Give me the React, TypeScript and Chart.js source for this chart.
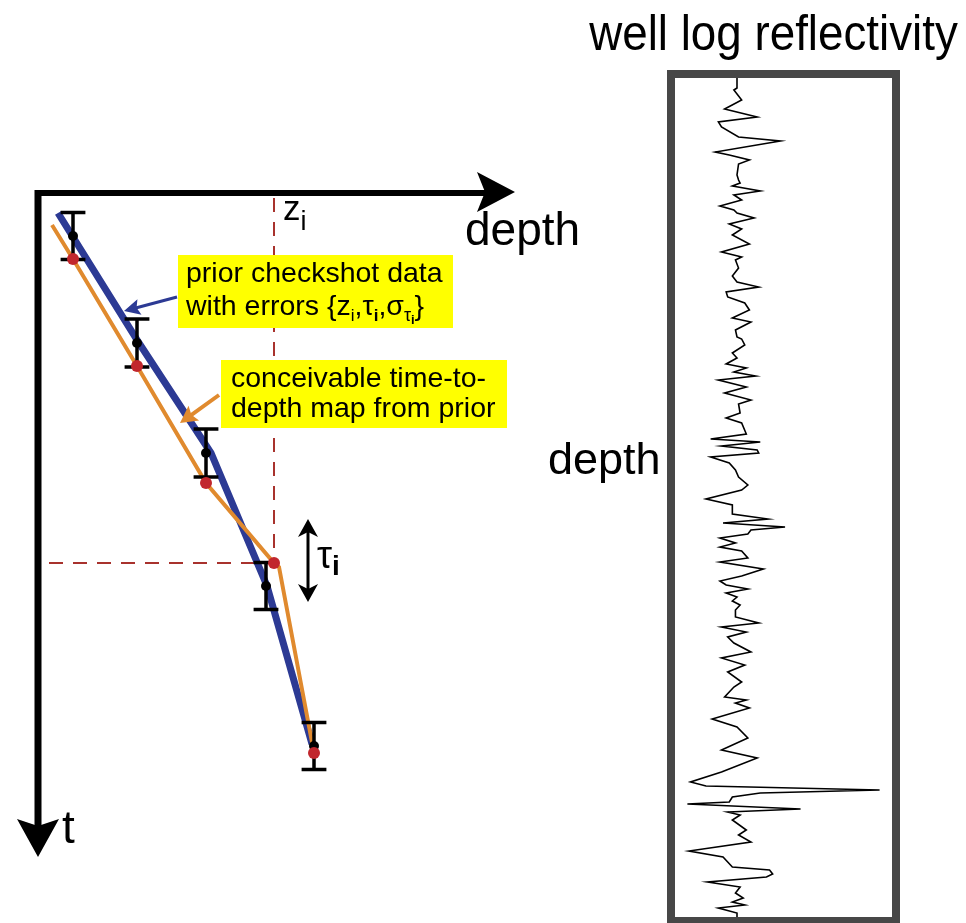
import React, { useEffect, useRef } from "react";
import { Chart, registerables } from "chart.js";

Chart.register(...registerables);

const FONT = '"Liberation Sans", Arial, Helvetica, sans-serif';

// Checkshot picks: depth z_i (m), one-way time tau_i (ms) and pick error sigma (ms)
const checkDepth = [175, 495, 840, 1140, 1380];
const checkTime = [88, 302, 522, 788, 1108];
const checkSigma = [47, 48, 48, 47, 47];

// Prior trend through the checkshots
const trendDepth = [100, 505, 865, 1145, 1370];
const trendTime = [42, 302, 522, 788, 1104];

// One conceivable time-to-depth map drawn from the prior
const mapDepth = [70, 175, 495, 840, 1180, 1205, 1380];
const mapTime = [66, 134, 348, 582, 742, 750, 1122];
const nodeDepth = [175, 495, 840, 1180, 1380];
const nodeTime = [134, 348, 582, 742, 1122];
const pickedNode = 3;

// Well log reflectivity series versus depth (m)
const wellDepth = [
  0, 10, 12, 22, 31, 39, 44, 49, 59, 63, 74, 77, 82, 86, 97, 102, 105, 108, 113, 117,
  122, 128, 132, 135, 140, 146, 151, 157, 166, 174, 179, 182, 190, 198, 204, 209, 214, 219, 225, 232,
  240, 244, 252, 259, 261, 267, 275, 280, 286, 290, 294, 298, 302, 309, 315, 322, 326, 335, 340, 345,
  356, 361, 364, 368, 372, 375, 379, 385, 392, 399, 407, 412, 421, 427, 436, 441, 445, 449, 452, 456,
  460, 465, 469, 473, 480, 484, 491, 498, 503, 507, 511, 515, 519, 523, 527, 532, 539, 545, 549, 554,
  559, 565, 574, 580, 587, 594, 604, 609, 619, 622, 625, 630, 641, 649, 660, 672, 680, 694, 704, 708,
  712, 715, 719, 724, 726, 731, 734, 737, 742, 752, 757, 764, 773, 779, 784, 789, 792, 796, 799, 804,
  809, 815, 820, 824, 827, 830, 835, 839,
];
const wellRefl = [
  0.0, 0.0, -0.02, 0.03, -0.08, 0.13, -0.12, -0.1, 0.01, 0.28, -0.14, -0.05, 0.08, 0.01, 0.0, 0.01, 0.02, -0.03, 0.15, -0.02,
  0.03, -0.11, -0.02, 0.0, 0.11, -0.05, 0.03, -0.03, 0.08, -0.1, 0.03, -0.01, 0.01, -0.03, 0.0, 0.14, -0.07, -0.06, 0.05, 0.08,
  -0.03, 0.09, -0.01, 0.0, 0.03, 0.05, -0.03, 0.0, -0.07, 0.06, -0.02, 0.12, -0.12, 0.06, -0.08, 0.09, 0.01, 0.02, -0.07, 0.03,
  0.06, -0.17, 0.15, -0.1, 0.13, 0.14, -0.17, -0.05, -0.01, 0.01, 0.07, 0.03, -0.2, -0.03, -0.03, 0.2, -0.09, 0.31, 0.09, 0.07,
  -0.11, -0.01, -0.11, 0.03, 0.07, -0.11, 0.17, 0.03, -0.11, -0.07, 0.07, -0.07, 0.0, -0.03, 0.02, -0.01, -0.01, 0.14, -0.1, 0.06,
  -0.06, -0.02, 0.09, -0.1, 0.05, -0.06, 0.03, -0.02, -0.08, 0.06, -0.01, 0.08, -0.16, 0.0, 0.07, -0.1, 0.13, -0.1, -0.3, -0.2,
  0.92, 0.15, -0.03, -0.05, -0.32, 0.41, -0.06, 0.02, -0.03, 0.06, 0.01, 0.09, -0.31, -0.09, -0.06, -0.03, 0.21, 0.23, 0.19, -0.19,
  0.02, -0.01, 0.04, -0.03, 0.05, -0.12, 0.0, 0.0,
];

const BLUE = "#2c3a94";
const ORANGE = "#e08a2e";
const RED = "#c1272d";
const DASH_RED = "#a8322d";
const YELLOW = "#ffff00";

type Run = { text: string; size: number; dy?: number; bold?: boolean };

function drawRuns(ctx: CanvasRenderingContext2D, x: number, y: number, runs: Run[]) {
  let cx = x;
  for (const r of runs) {
    ctx.font = `${r.bold ? "bold " : ""}${r.size}px ${FONT}`;
    ctx.fillText(r.text, cx, y + (r.dy || 0));
    cx += ctx.measureText(r.text).width;
  }
}

function arrowHead(
  ctx: CanvasRenderingContext2D,
  tipX: number,
  tipY: number,
  angle: number,
  len: number,
  halfW: number,
  notch: number
) {
  ctx.save();
  ctx.translate(tipX, tipY);
  ctx.rotate(angle);
  ctx.beginPath();
  ctx.moveTo(0, 0);
  ctx.lineTo(-len, -halfW);
  ctx.lineTo(-len + notch, 0);
  ctx.lineTo(-len, halfW);
  ctx.closePath();
  ctx.fill();
  ctx.restore();
}

function line(ctx: CanvasRenderingContext2D, x1: number, y1: number, x2: number, y2: number) {
  ctx.beginPath();
  ctx.moveTo(x1, y1);
  ctx.lineTo(x2, y2);
  ctx.stroke();
}

const GAP = { x: NaN, y: NaN };
const CAP = 62;

function errorBarPoints() {
  const pts: { x: number; y: number }[] = [];
  checkDepth.forEach((z, k) => {
    const lo = checkTime[k] - checkSigma[k];
    const hi = checkTime[k] + checkSigma[k];
    pts.push({ x: z, y: lo }, { x: z, y: hi }, GAP);
    pts.push({ x: z - CAP, y: lo }, { x: z + CAP, y: lo }, GAP);
    pts.push({ x: z - CAP, y: hi }, { x: z + CAP, y: hi }, GAP);
  });
  return pts;
}

const zip = (xs: number[], ys: number[]) => xs.map((x, i) => ({ x, y: ys[i] }));

const diagramPlugin = {
  id: "checkshotDiagram",
  beforeDatasetsDraw(chart: any) {
    const ctx = chart.ctx as CanvasRenderingContext2D;
    const { left, top, right, bottom } = chart.chartArea;
    ctx.save();
    ctx.fillStyle = "#000";
    ctx.strokeStyle = "#000";
    ctx.lineCap = "butt";
    // depth axis arrow
    ctx.lineWidth = 6;
    line(ctx, left - 3, top + 1, right - 26, top + 1);
    arrowHead(ctx, right - 3, top, 0, 38, 20, 8);
    // time axis arrow
    ctx.lineWidth = 7;
    line(ctx, left, top - 2, left, bottom - 20);
    arrowHead(ctx, left, bottom + 5, Math.PI / 2, 38, 21, 7);
    ctx.restore();
  },
  afterDatasetsDraw(chart: any) {
    const ctx = chart.ctx as CanvasRenderingContext2D;
    const sx = (v: number) => chart.scales.x.getPixelForValue(v);
    const sy = (v: number) => chart.scales.y.getPixelForValue(v);
    ctx.save();
    ctx.textBaseline = "alphabetic";
    ctx.textAlign = "left";
    ctx.fillStyle = "#000";

    // axis labels
    ctx.font = `46px ${FONT}`;
    ctx.fillText("depth", sx(2135), sy(106));
    ctx.fillText("t", sx(120), sy(1302));

    // z_i label over the reference line
    drawRuns(ctx, sx(1225), sy(56), [
      { text: "z", size: 35 },
      { text: "i", size: 27, dy: 10 },
    ]);

    // tau_i double arrow
    const ax = sx(1350);
    const aTop = sy(654);
    const aBot = sy(820);
    ctx.strokeStyle = "#000";
    ctx.lineWidth = 3;
    line(ctx, ax, aTop + 10, ax, aBot - 10);
    arrowHead(ctx, ax, aTop, -Math.PI / 2, 18, 10, 5);
    arrowHead(ctx, ax, aBot, Math.PI / 2, 18, 10, 5);
    drawRuns(ctx, sx(1395), sy(752), [
      { text: "τ", size: 38 },
      { text: "i", size: 28, dy: 7, bold: true },
    ]);

    // callout: checkshot data
    ctx.fillStyle = YELLOW;
    ctx.fillRect(sx(700), sy(126), sx(2075) - sx(700), sy(272) - sy(126));
    ctx.fillStyle = "#000";
    drawRuns(ctx, sx(740), sy(180), [{ text: "prior checkshot data", size: 28.5 }]);
    drawRuns(ctx, sx(740), sy(246), [
      { text: "with errors {", size: 28.5 },
      { text: "z", size: 28.5 },
      { text: "i", size: 17, dy: 6 },
      { text: ",", size: 28.5 },
      { text: "τ", size: 28.5 },
      { text: "i", size: 17, dy: 6, bold: true },
      { text: ",", size: 28.5 },
      { text: "σ", size: 28.5 },
      { text: "τ", size: 18, dy: 6 },
      { text: "i", size: 13, dy: 9, bold: true },
      { text: "}", size: 28.5 },
    ]);
    ctx.strokeStyle = BLUE;
    ctx.fillStyle = BLUE;
    ctx.lineWidth = 3;
    {
      const x1 = sx(695), y1 = sy(210), x2 = sx(430), y2 = sy(238);
      const ang = Math.atan2(y2 - y1, x2 - x1);
      line(ctx, x1, y1, x2 - 12 * Math.cos(ang), y2 - 12 * Math.sin(ang));
      arrowHead(ctx, x2, y2, ang, 16, 8, 3);
    }

    // callout: conceivable map
    ctx.fillStyle = YELLOW;
    ctx.fillRect(sx(915), sy(336), sx(2345) - sx(915), sy(472) - sy(336));
    ctx.fillStyle = "#000";
    drawRuns(ctx, sx(965), sy(390), [{ text: "conceivable time-to-", size: 28.5 }]);
    drawRuns(ctx, sx(965), sy(450), [{ text: "depth map from prior", size: 28.5 }]);
    ctx.strokeStyle = ORANGE;
    ctx.fillStyle = ORANGE;
    ctx.lineWidth = 4;
    {
      const x1 = sx(905), y1 = sy(406), x2 = sx(710), y2 = sy(462);
      const ang = Math.atan2(y2 - y1, x2 - x1);
      line(ctx, x1, y1, x2 - 12 * Math.cos(ang), y2 - 12 * Math.sin(ang));
      arrowHead(ctx, x2, y2, ang, 17, 9, 3);
    }
    ctx.restore();
  },
};

const wellPlugin = {
  id: "wellFrame",
  afterDatasetsDraw(chart: any) {
    const ctx = chart.ctx as CanvasRenderingContext2D;
    const { left, top, width, height } = chart.chartArea;
    ctx.save();
    ctx.strokeStyle = "#474747";
    ctx.lineWidth = 8;
    ctx.strokeRect(left - 4, top - 4, width + 8, height + 8);

    ctx.fillStyle = "#000";
    ctx.textBaseline = "alphabetic";
    // title, slightly condensed
    ctx.save();
    ctx.translate(left + width / 2 - 10, 50);
    ctx.scale(0.915, 1);
    ctx.font = `50px ${FONT}`;
    ctx.textAlign = "center";
    ctx.fillText("well log reflectivity", 0, 0);
    ctx.restore();

    ctx.font = `45px ${FONT}`;
    ctx.textAlign = "left";
    ctx.fillText("depth", 8, 474);
    ctx.restore();
  },
};

export default function App() {
  const leftRef = useRef<HTMLCanvasElement>(null);
  const rightRef = useRef<HTMLCanvasElement>(null);

  useEffect(() => {
    const left = new Chart(leftRef.current!, {
      type: "scatter",
      data: {
        datasets: [
          {
            label: "map nodes",
            data: zip(nodeDepth, nodeTime),
            pointRadius: 6,
            pointBackgroundColor: RED,
            pointBorderWidth: 0,
            showLine: false,
            order: 0,
          },
          {
            label: "checkshots",
            data: zip(checkDepth, checkTime),
            pointRadius: 5,
            pointBackgroundColor: "#000",
            pointBorderWidth: 0,
            showLine: false,
            order: 1,
          },
          {
            label: "pick errors",
            data: errorBarPoints(),
            showLine: true,
            spanGaps: false,
            pointRadius: 0,
            borderColor: "#000",
            borderWidth: 3.5,
            borderCapStyle: "butt",
            order: 2,
          },
          {
            label: "time-to-depth map",
            data: zip(mapDepth, mapTime),
            showLine: true,
            pointRadius: 0,
            borderColor: ORANGE,
            borderWidth: 4,
            tension: 0,
            order: 3,
          },
          {
            label: "prior trend",
            data: zip(trendDepth, trendTime),
            showLine: true,
            pointRadius: 0,
            borderColor: BLUE,
            borderWidth: 7,
            tension: 0,
            order: 4,
          },
          {
            label: "z_i reference",
            data: [
              { x: nodeDepth[pickedNode], y: 12 },
              { x: nodeDepth[pickedNode], y: nodeTime[pickedNode] },
              { x: 20, y: nodeTime[pickedNode] },
            ],
            showLine: true,
            pointRadius: 0,
            borderColor: DASH_RED,
            borderWidth: 2,
            borderDash: [14, 10],
            tension: 0,
            order: 5,
          },
        ],
      } as any,
      options: {
        animation: false,
        responsive: false,
        maintainAspectRatio: false,
        devicePixelRatio: 1,
        layout: { padding: { left: 38, top: 192, right: 102, bottom: 71 } },
        scales: {
          x: { type: "linear", min: 0, max: 2400, display: false },
          y: { type: "linear", min: 0, max: 1320, reverse: true, display: false },
        },
        plugins: { legend: { display: false }, tooltip: { enabled: false } },
      } as any,
      plugins: [diagramPlugin],
    });

    const right = new Chart(rightRef.current!, {
      type: "scatter",
      data: {
        datasets: [
          {
            label: "reflectivity",
            data: zip(wellRefl, wellDepth),
            showLine: true,
            pointRadius: 0,
            borderColor: "#000",
            borderWidth: 1.6,
            tension: 0,
          },
        ],
      } as any,
      options: {
        animation: false,
        responsive: false,
        maintainAspectRatio: false,
        devicePixelRatio: 1,
        layout: { padding: { left: 135, top: 78, right: 74, bottom: 6 } },
        scales: {
          x: { type: "linear", min: -0.4, max: 1.0, display: false },
          y: { type: "linear", min: 0, max: 839, reverse: true, display: false },
        },
        plugins: { legend: { display: false }, tooltip: { enabled: false } },
      } as any,
      plugins: [wellPlugin],
    });

    return () => {
      left.destroy();
      right.destroy();
    };
  }, []);

  return (
    <div style={{ position: "absolute", left: 0, top: 0, width: 966, height: 923, background: "#fff" }}>
      <canvas
        ref={leftRef}
        width={620}
        height={923}
        style={{ position: "absolute", left: 0, top: 0, width: 620, height: 923 }}
      />
      <canvas
        ref={rightRef}
        width={426}
        height={923}
        style={{ position: "absolute", left: 540, top: 0, width: 426, height: 923 }}
      />
    </div>
  );
}
